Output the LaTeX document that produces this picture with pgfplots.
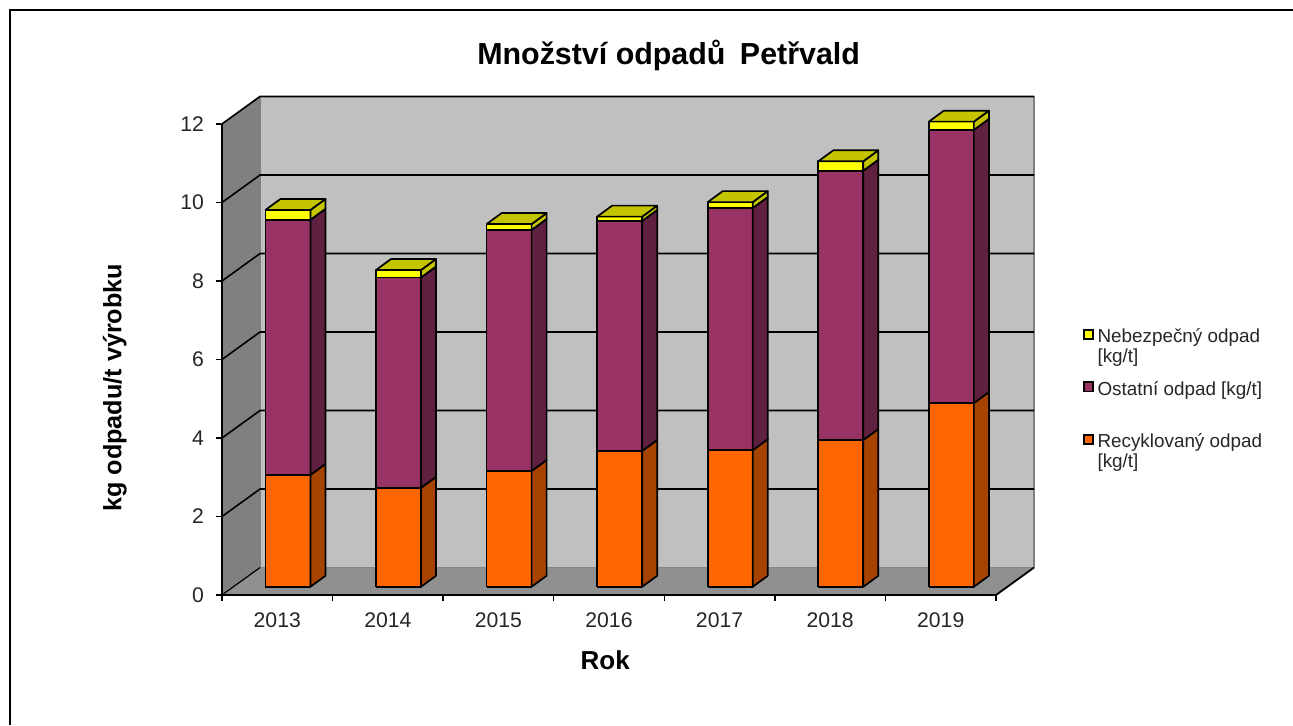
\documentclass[border=0pt]{standalone}
\usepackage{fontspec}
\setmainfont{Liberation Sans}
\usepackage{pgfplots}
\usepackage{pgfplotstable}
\pgfplotsset{compat=1.18}

\definecolor{wallback}{HTML}{C0C0C0}
\definecolor{wallleft}{HTML}{808080}
\definecolor{wallfloor}{HTML}{909090}
\definecolor{recfront}{HTML}{FF6600}
\definecolor{recside}{HTML}{A64300}
\definecolor{othfront}{HTML}{993366}
\definecolor{othside}{HTML}{602040}
\definecolor{hazfront}{HTML}{FFFF00}
\definecolor{hazside}{HTML}{C4C400}

% kg/t per year
\pgfplotstableread{
year rec  oth  haz
2013 2.85 6.50 0.25
2014 2.52 5.36 0.19
2015 2.95 6.14 0.15
2016 3.46 5.86 0.11
2017 3.48 6.17 0.15
2018 3.74 6.86 0.24
2019 4.68 6.96 0.21
}\wastedata

% depth of the chart box and of a bar, in axis units
\def\wdx{0.3437}
\def\wdy{0.70}
\def\bdx{0.1357}
\def\bdy{0.28}
\def\bbase{0.21}
\def\bleft{0.393}
\def\bright{0.800}

% polygon in axis coordinates
\newcommand{\face}[3]{%
  \edef\temp{\noexpand\addplot[forget plot,#1,fill=#2,line join=round] coordinates {#3};}\temp}

% front and side of one stacked segment: index, low, high, colours
\newcommand{\segment}[5]{%
  \pgfmathsetmacro\xa{#1+\bleft}\pgfmathsetmacro\xb{#1+\bright}\pgfmathsetmacro\xc{\xb+\bdx}%
  \pgfmathsetmacro\ya{#2+\bbase}\pgfmathsetmacro\yb{#3+\bbase}%
  \pgfmathsetmacro\yc{\ya+\bdy}\pgfmathsetmacro\yd{\yb+\bdy}%
  \face{barline}{#4}{(\xa,\ya)(\xb,\ya)(\xb,\yb)(\xa,\yb)(\xa,\ya)}%
  \face{barline}{#5}{(\xb,\ya)(\xc,\yc)(\xc,\yd)(\xb,\yb)(\xb,\ya)}%
}

\pgfplotsset{
  barline/.style={draw=black,line width=0.85pt},
  legsq/.style={legend image code/.code={
    \draw[draw=black,line width=0.9pt,fill=#1] (0pt,0pt) rectangle (4.6pt,4.6pt);}},
}

\begin{document}
\begin{tikzpicture}
\path[use as bounding box] (-111pt,-65pt) rectangle (535.5pt,297.5pt);
\draw[line width=0.8pt] (-106pt,-65pt) -- (-106pt,292.5pt) -- (535.5pt,292.5pt);
\begin{axis}[
    at={(0,0)}, anchor=south west,
    scale only axis,
    width=406pt, height=249.3pt,
    xmin=0, xmax=7.3437,
    ymin=0, ymax=12.703,
    clip=false,
    axis line style={draw=none},
    xtick={0,...,7},
    x tick label as interval,
    xticklabels={2013,2014,2015,2016,2017,2018,2019},
    ytick={0,2,...,12},
    xtick pos=bottom, ytick pos=left,
    tick align=outside,
    major tick length=3pt,
    tick style={black,line width=0.7pt},
    ticklabel style={font=\fontsize{10.6}{12}\selectfont,text=black!85},
    xticklabel style={yshift=-2.5pt},
    yticklabel style={xshift=-2.5pt},
    /pgf/number format/assume math mode=true,
    title={Množství odpadů\hspace{3pt} Petřvald},
    title style={at={(rel axis cs:0.55,1.058)},anchor=center,font=\fontsize{15.2}{17}\selectfont\bfseries},
    xlabel={Rok},
    xlabel style={at={(rel axis cs:0.472,-0.1305)},anchor=center,font=\fontsize{13}{15}\selectfont\bfseries},
    ylabel={kg odpadu/t výrobku},
    ylabel style={at={(rel axis cs:-0.132,0.4157)},anchor=center,font=\fontsize{12.6}{14}\selectfont\bfseries},
    legend style={draw=none,fill=none,at={(rel axis cs:1.0595,0.5345)},anchor=north west,
      row sep=18pt,inner sep=0pt,
      nodes={font=\fontsize{9.43}{10}\selectfont,text=black!85,inner xsep=1.9pt,inner ysep=0pt}},
    legend cell align=left,
]
% walls and floor
\face{draw=wallleft,line width=0.8pt}{wallback}{(\wdx,\wdy)(7+\wdx,\wdy)(7+\wdx,12+\wdy)(\wdx,12+\wdy)(\wdx,\wdy)}
\face{draw=wallleft,line width=0.8pt}{wallleft}{(0,0)(\wdx,\wdy)(\wdx,12+\wdy)(0,12)(0,0)}
\face{draw=none}{wallfloor}{(0,0)(7,0)(7+\wdx,\wdy)(\wdx,\wdy)(0,0)}
% grid lines
\pgfplotsinvokeforeach{2,4,...,12}{
  \addplot[forget plot,black,line width=0.8pt] coordinates {(0,#1) (\wdx,#1+\wdy) (7+\wdx,#1+\wdy)};
}
% box outline
\addplot[forget plot,black,line width=0.9pt] coordinates {(0,12) (0,0) (7,0) (7+\wdx,\wdy)};
\addplot[forget plot,black,line width=0.6pt] coordinates {(0,0) (\wdx,\wdy)};

% bars
\pgfplotsforeachungrouped \i in {0,...,6}{
  \pgfplotstablegetelem{\i}{rec}\of\wastedata \let\vr\pgfplotsretval
  \pgfplotstablegetelem{\i}{oth}\of\wastedata \let\vo\pgfplotsretval
  \pgfplotstablegetelem{\i}{haz}\of\wastedata \let\vh\pgfplotsretval
  \pgfmathsetmacro\sa{\vr}\pgfmathsetmacro\sb{\vr+\vo}\pgfmathsetmacro\sc{\vr+\vo+\vh}
  \segment{\i}{0}{\sa}{recfront}{recside}
  \segment{\i}{\sa}{\sb}{othfront}{othside}
  \segment{\i}{\sb}{\sc}{hazfront}{hazside}
  % top of the bar
  \pgfmathsetmacro\xa{\i+\bleft}\pgfmathsetmacro\xb{\i+\bright}
  \pgfmathsetmacro\xc{\xa+\bdx}\pgfmathsetmacro\xd{\xb+\bdx}
  \pgfmathsetmacro\ya{\sc+\bbase}\pgfmathsetmacro\yb{\ya+\bdy}
  \face{barline}{hazside}{(\xa,\ya)(\xb,\ya)(\xd,\yb)(\xc,\yb)(\xa,\ya)}
}

\addlegendimage{legsq=hazfront}
\addlegendentry{\raisebox{0pt}[1ex][0pt]{\begin{tabular}[t]{@{}l@{}}Nebezpečný odpad\\{}[kg/t]\end{tabular}}}
\addlegendimage{legsq=othfront}
\addlegendentry{\raisebox{0pt}[1ex][0pt]{Ostatní odpad [kg/t]}}
\addlegendimage{legsq=recfront}
\addlegendentry{\raisebox{0pt}[1ex][0pt]{\begin{tabular}[t]{@{}l@{}}Recyklovaný odpad\\{}[kg/t]\end{tabular}}}
\end{axis}
\end{tikzpicture}
\end{document}
